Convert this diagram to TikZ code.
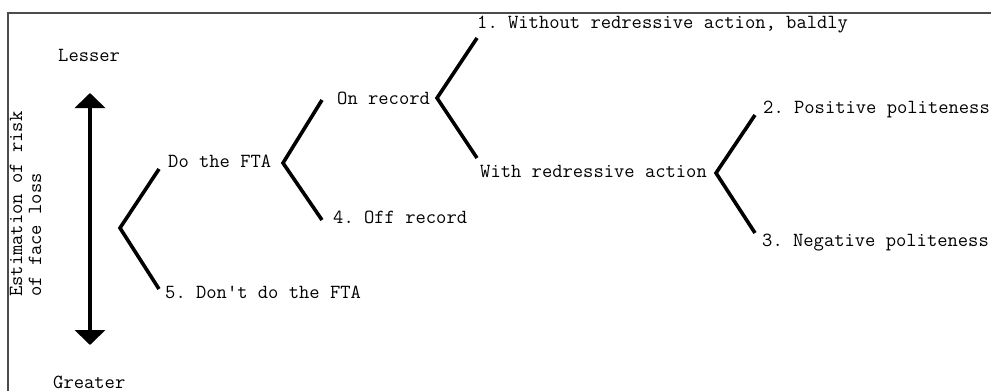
\documentclass[tikz,border=0pt]{standalone}
\usetikzlibrary{arrows.meta}
\begin{document}
\frenchspacing
\begin{tikzpicture}[x=1pt,y=-1pt,
  lbl/.style={font=\ttfamily\fontsize{20}{23}\selectfont, inner sep=0pt, anchor=base west},
  arm/.style={line width=3.6pt, line cap=butt, line join=miter},
  frame/.style={draw=black!70, line width=1.1pt}]
\useasboundingbox (0,0) rectangle (991,391);
% frame
\coordinate (fTL) at (8,13);
\coordinate (fTR) at (991,13);
\coordinate (fBL) at (8,391);
\draw[frame] (fTR) -- (fTL) -- (fBL);
% scale labels
\node[lbl] (lesser) at (58,61) {Lesser};
\node[lbl] (greater) at (53,388) {Greater};
\coordinate (atop) at (90,93);
\coordinate (abot) at (90,345);
\draw[line width=3.6pt, {Triangle[width=30pt,length=15pt]}-{Triangle[width=30pt,length=15pt]}] (atop) -- (abot);
\node[lbl, rotate=90] (est1) at (22,297) {Estimation of risk};
\node[lbl, rotate=90] (est2) at (41,297) {of face loss};
% texts
\node[lbl] (dofta) at (168,167.5) {Do the FTA};
\node[lbl] (dont) at (165,298.5) {5. Don't do the FTA};
\node[lbl] (onrec) at (337,104.5) {On record};
\node[lbl] (offrec) at (333,223.5) {4. Off record};
\node[lbl] (bald) at (477,28) {1. Without redressive action, baldly};
\node[lbl] (redr) at (480,177.5) {With redressive action};
\node[lbl] (pos) at (763,113.5) {2. Positive politeness};
\node[lbl] (neg) at (762,246.5) {3. Negative politeness};
% branch points
\coordinate (v1) at (120,228);
\coordinate (v1a) at (159,169);
\coordinate (v1b) at (159,289);
\coordinate (v2) at (283,163);
\coordinate (v2a) at (322,100);
\coordinate (v2b) at (322,220);
\coordinate (v3) at (437,98);
\coordinate (v3a) at (477,38);
\coordinate (v3b) at (477,158);
\coordinate (v4) at (716,173);
\coordinate (v4a) at (755,115);
\coordinate (v4b) at (755,233);
\draw[arm] (v1a) -- (v1) -- (v1b);
\draw[arm] (v2a) -- (v2) -- (v2b);
\draw[arm] (v3a) -- (v3) -- (v3b);
\draw[arm] (v4a) -- (v4) -- (v4b);
\end{tikzpicture}
\end{document}
